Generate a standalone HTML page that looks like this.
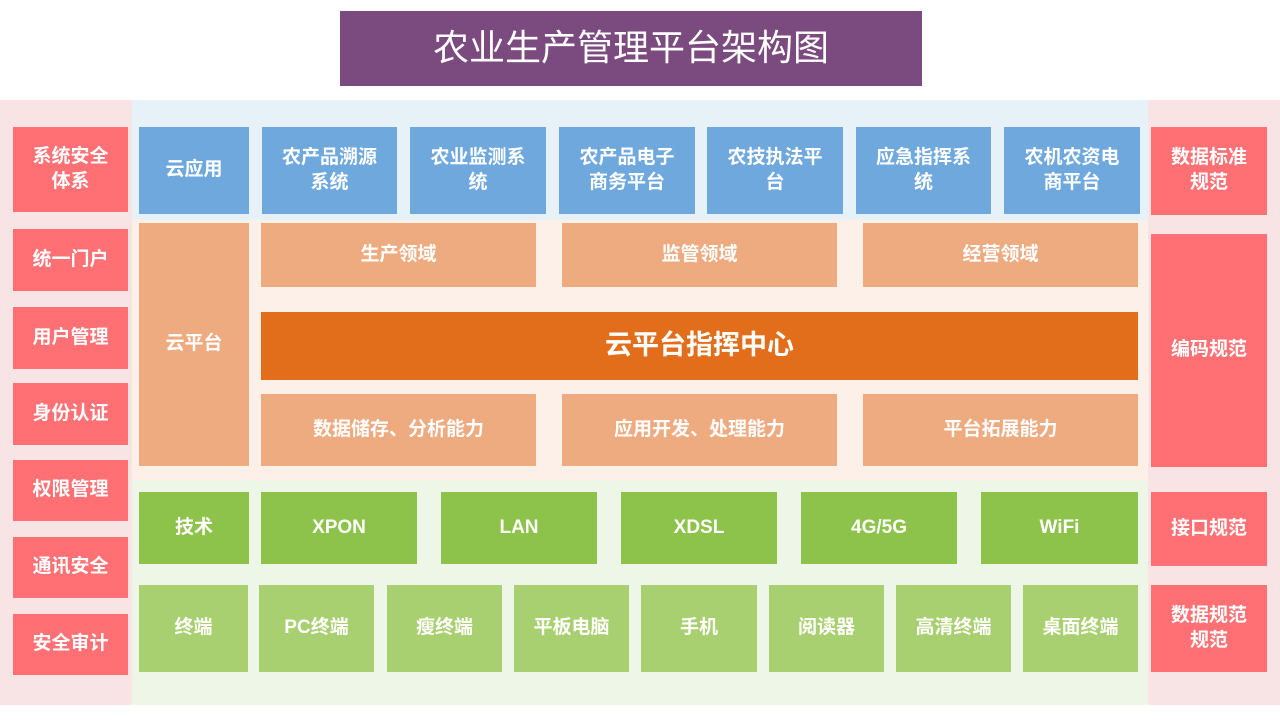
<!DOCTYPE html>
<html><head><meta charset="utf-8"><style>
body{margin:0;width:1280px;height:720px;position:relative;background:#fff;overflow:hidden;font-family:"Liberation Sans","Noto Sans CJK SC",sans-serif;font-weight:bold;color:#fff}
div{position:absolute;box-sizing:border-box}
.b{display:flex;align-items:center;justify-content:center;text-align:center;line-height:1.3;font-size:19px}
.r{background:#fe7073}.bl{background:#6fa8dc}.o{background:#eeab80}.g{background:#8dc34b}.lg{background:#a9d070}
</style></head><body>
<div style="left:0;top:100px;width:132px;height:605px;background:#f8e3e5"></div>
<div style="left:1148px;top:100px;width:132px;height:605px;background:#f8e3e5"></div>
<div style="left:132px;top:100px;width:1016px;height:120px;background:#e6f2f7"></div>
<div style="left:132px;top:220px;width:1016px;height:260px;background:#fcf0e8"></div>
<div style="left:132px;top:480px;width:1016px;height:225px;background:#eef6e8"></div>
<div class="b" style="left:340px;top:11px;width:582px;height:75px;background:#7b4a7e;font-size:36px;font-weight:normal">农业生产管理平台架构图</div>

<div class="b r" style="left:13px;top:127px;width:115px;height:85px">系统安全<br>体系</div>
<div class="b r" style="left:13px;top:229px;width:115px;height:62px">统一门户</div>
<div class="b r" style="left:13px;top:307px;width:115px;height:62px">用户管理</div>
<div class="b r" style="left:13px;top:383px;width:115px;height:62px">身份认证</div>
<div class="b r" style="left:13px;top:460px;width:115px;height:61px">权限管理</div>
<div class="b r" style="left:13px;top:537px;width:115px;height:61px">通讯安全</div>
<div class="b r" style="left:13px;top:614px;width:115px;height:61px">安全审计</div>

<div class="b r" style="left:1151px;top:127px;width:116px;height:88px">数据标准<br>规范</div>
<div class="b r" style="left:1151px;top:234px;width:116px;height:233px">编码规范</div>
<div class="b r" style="left:1151px;top:492px;width:116px;height:74px">接口规范</div>
<div class="b r" style="left:1151px;top:585px;width:116px;height:87px">数据规范<br>规范</div>

<div class="b bl" style="left:139px;top:127px;width:110px;height:87px">云应用</div>
<div class="b bl" style="left:262px;top:127px;width:135px;height:87px">农产品溯源<br>系统</div>
<div class="b bl" style="left:410px;top:127px;width:136px;height:87px">农业监测系<br>统</div>
<div class="b bl" style="left:559px;top:127px;width:136px;height:87px">农产品电子<br>商务平台</div>
<div class="b bl" style="left:707px;top:127px;width:136px;height:87px">农技执法平<br>台</div>
<div class="b bl" style="left:856px;top:127px;width:135px;height:87px">应急指挥系<br>统</div>
<div class="b bl" style="left:1004px;top:127px;width:136px;height:87px">农机农资电<br>商平台</div>

<div class="b o" style="left:139px;top:223px;width:110px;height:243px">云平台</div>
<div class="b o" style="left:261px;top:223px;width:275px;height:64px">生产领域</div>
<div class="b o" style="left:562px;top:223px;width:275px;height:64px">监管领域</div>
<div class="b o" style="left:863px;top:223px;width:275px;height:64px">经营领域</div>
<div class="b" style="left:261px;top:312px;width:877px;height:68px;background:#e26d1a;font-size:27px">云平台指挥中心</div>
<div class="b o" style="left:261px;top:394px;width:275px;height:72px">数据储存、分析能力</div>
<div class="b o" style="left:562px;top:394px;width:275px;height:72px">应用开发、处理能力</div>
<div class="b o" style="left:863px;top:394px;width:275px;height:72px">平台拓展能力</div>

<div class="b g" style="left:139px;top:492px;width:110px;height:72px">技术</div>
<div class="b g" style="left:261px;top:492px;width:156px;height:72px">XPON</div>
<div class="b g" style="left:441px;top:492px;width:156px;height:72px">LAN</div>
<div class="b g" style="left:621px;top:492px;width:156px;height:72px">XDSL</div>
<div class="b g" style="left:801px;top:492px;width:156px;height:72px">4G/5G</div>
<div class="b g" style="left:981px;top:492px;width:157px;height:72px">WiFi</div>

<div class="b lg" style="left:139px;top:585px;width:109px;height:87px">终端</div>
<div class="b lg" style="left:259px;top:585px;width:115px;height:87px">PC终端</div>
<div class="b lg" style="left:387px;top:585px;width:115px;height:87px">瘦终端</div>
<div class="b lg" style="left:514px;top:585px;width:115px;height:87px">平板电脑</div>
<div class="b lg" style="left:641px;top:585px;width:116px;height:87px">手机</div>
<div class="b lg" style="left:769px;top:585px;width:115px;height:87px">阅读器</div>
<div class="b lg" style="left:896px;top:585px;width:115px;height:87px">高清终端</div>
<div class="b lg" style="left:1023px;top:585px;width:115px;height:87px">桌面终端</div>
</body></html>
